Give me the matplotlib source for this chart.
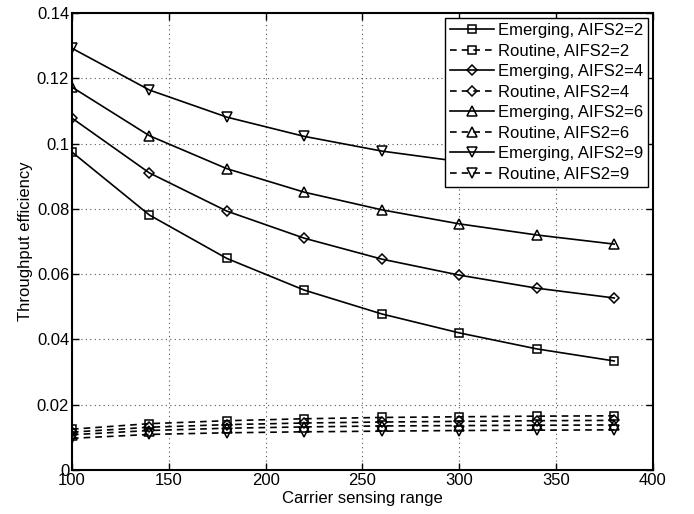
import matplotlib
matplotlib.use("Agg")
import matplotlib.pyplot as plt
from matplotlib.ticker import FuncFormatter

plt.rcParams["font.family"] = ["Liberation Sans", "DejaVu Sans"]

## Data
csr = [100, 140, 180, 220, 260, 300, 340, 380]

emerging_2 = [0.0974, 0.0781, 0.0648, 0.0551, 0.0478, 0.0420, 0.0371, 0.0334]
emerging_4 = [0.1078, 0.0910, 0.0793, 0.0710, 0.0646, 0.0597, 0.0557, 0.0527]
emerging_6 = [0.1173, 0.1024, 0.0923, 0.0851, 0.0797, 0.0754, 0.0720, 0.0692]
emerging_9 = [0.1292, 0.1164, 0.1081, 0.1022, 0.0977, 0.0945, 0.0915, 0.0890]

routine_2 = [0.0125, 0.0142, 0.0151, 0.0157, 0.0161, 0.0163, 0.0165, 0.0166]
routine_4 = [0.0116, 0.0131, 0.0139, 0.0144, 0.0147, 0.0149, 0.0151, 0.0152]
routine_6 = [0.0108, 0.0121, 0.0128, 0.0132, 0.0135, 0.0136, 0.0137, 0.0138]
routine_9 = [0.0097, 0.0109, 0.0114, 0.0117, 0.0119, 0.0121, 0.0122, 0.0123]

aifs = [2, 4, 6, 9]
markers = ["s", "D", "^", "v"]
marker_sizes = [5.5, 5, 7, 7]

emerging = [emerging_2, emerging_4, emerging_6, emerging_9]
routine = [routine_2, routine_4, routine_6, routine_9]

FS = 12

fig = plt.figure(figsize=(6.94, 5.14), dpi=100)
ax = fig.add_axes([0.1037, 0.0856, 0.8372, 0.8891])

for a, m, ms, e, r in zip(aifs, markers, marker_sizes, emerging, routine):
    ax.plot(csr, e, "-", color="black", marker=m, markersize=ms,
            markerfacecolor="none", markeredgewidth=1.1, linewidth=1.2,
            label="Emerging, AIFS2=%d" % a)
    ax.plot(csr, r, "--", color="black", marker=m, markersize=ms,
            markerfacecolor="none", markeredgewidth=1.1, linewidth=1.2,
            dashes=(4, 3), label="Routine, AIFS2=%d" % a)

ax.set_xlim(100, 400)
ax.set_ylim(0, 0.14)
ax.set_xticks(range(100, 401, 50))
ax.set_yticks([0, 0.02, 0.04, 0.06, 0.08, 0.1, 0.12, 0.14])
ax.yaxis.set_major_formatter(FuncFormatter(lambda v, p: "%g" % round(v, 2)))
ax.tick_params(direction="in", top=True, right=True, length=5, width=1,
               labelsize=FS, pad=2)
for s in ax.spines.values():
    s.set_linewidth(1.5)
ax.grid(True, linestyle=(0, (1, 3)), color="#555555", linewidth=0.8)

ax.set_xlabel("Carrier sensing range", fontsize=FS, labelpad=2)
ax.set_ylabel("Throughput efficiency", fontsize=FS, labelpad=3)

leg = ax.legend(loc="upper right", fontsize=FS, fancybox=False,
                framealpha=1, edgecolor="black", handlelength=2.6,
                borderaxespad=0.3, labelspacing=0.33, handletextpad=0.25,
                borderpad=0.3)
leg.get_frame().set_linewidth(1.0)

fig.savefig("out.png", dpi=100)
